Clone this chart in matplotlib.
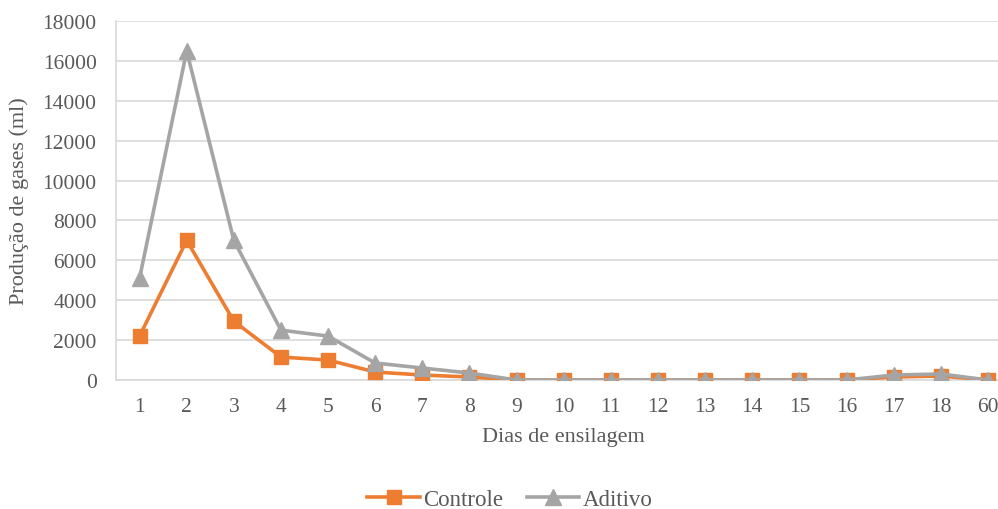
import matplotlib
matplotlib.use("Agg")
import matplotlib.pyplot as plt
import numpy as np

categories = ["1", "2", "3", "4", "5", "6", "7", "8", "9", "10", "11", "12", "13", "14", "15", "16", "17", "18", "60"]
controle = [2200, 7000, 2950, 1150, 1000, 400, 250, 150, 0, 0, 0, 0, 0, 0, 0, 0, 150, 200, 0]
aditivo = [5100, 16500, 7000, 2500, 2200, 850, 600, 350, 0, 0, 0, 0, 0, 0, 0, 0, 250, 300, 0]
yticks = list(range(0, 18001, 2000))

plt.rcParams['font.family'] = ['Liberation Serif', 'DejaVu Serif']

fig = plt.figure(figsize=(9.98, 5.10), dpi=100)
W, H = 998, 510
left_px, right_px, top_px, bot_px = 116, 1011.5, 22, 381
ax = fig.add_axes([left_px / W, 1 - bot_px / H, (right_px - left_px) / W, (bot_px - top_px) / H])

x = np.arange(len(categories))
ax.plot(x, controle, color="#ED7D31", lw=2.6, marker="s", markersize=10, label="Controle", zorder=3)
ax.plot(x, aditivo, color="#A5A5A5", lw=2.6, marker="^", markersize=11, label="Aditivo", zorder=4)

ax.set_xlim(-0.5, len(categories) - 0.5)
ax.set_ylim(0, 18000)
ax.set_yticks(yticks)
ax.set_yticklabels([str(v) for v in yticks])
ax.set_xticks(x)
ax.set_xticklabels(categories)
ax.tick_params(axis="both", length=0, labelsize=15.5, colors="#595959")
ax.tick_params(axis="x", pad=12)
ax.tick_params(axis="y", pad=14)
ax.grid(axis="y", color="#D9D9D9", lw=1.2)
ax.set_axisbelow(True)
for s in ["top", "right"]:
    ax.spines[s].set_visible(False)
ax.spines["left"].set_color("#D9D9D9")
ax.spines["bottom"].set_color("#D9D9D9")
ax.spines["left"].set_linewidth(1.2)
ax.spines["bottom"].set_linewidth(1.2)

ax.set_xlabel("Dias de ensilagem", fontsize=16, color="#595959", labelpad=8)
ax.set_ylabel("Produção de gases (ml)", fontsize=16, color="#595959", labelpad=10)

fig.legend(loc="center", bbox_to_anchor=(510 / W, 1 - 500 / H), ncol=2, frameon=False,
           fontsize=16.5, handlelength=2.3, columnspacing=1.0, handletextpad=0.15,
           labelcolor="#595959")

fig.savefig("out.png", dpi=100)
